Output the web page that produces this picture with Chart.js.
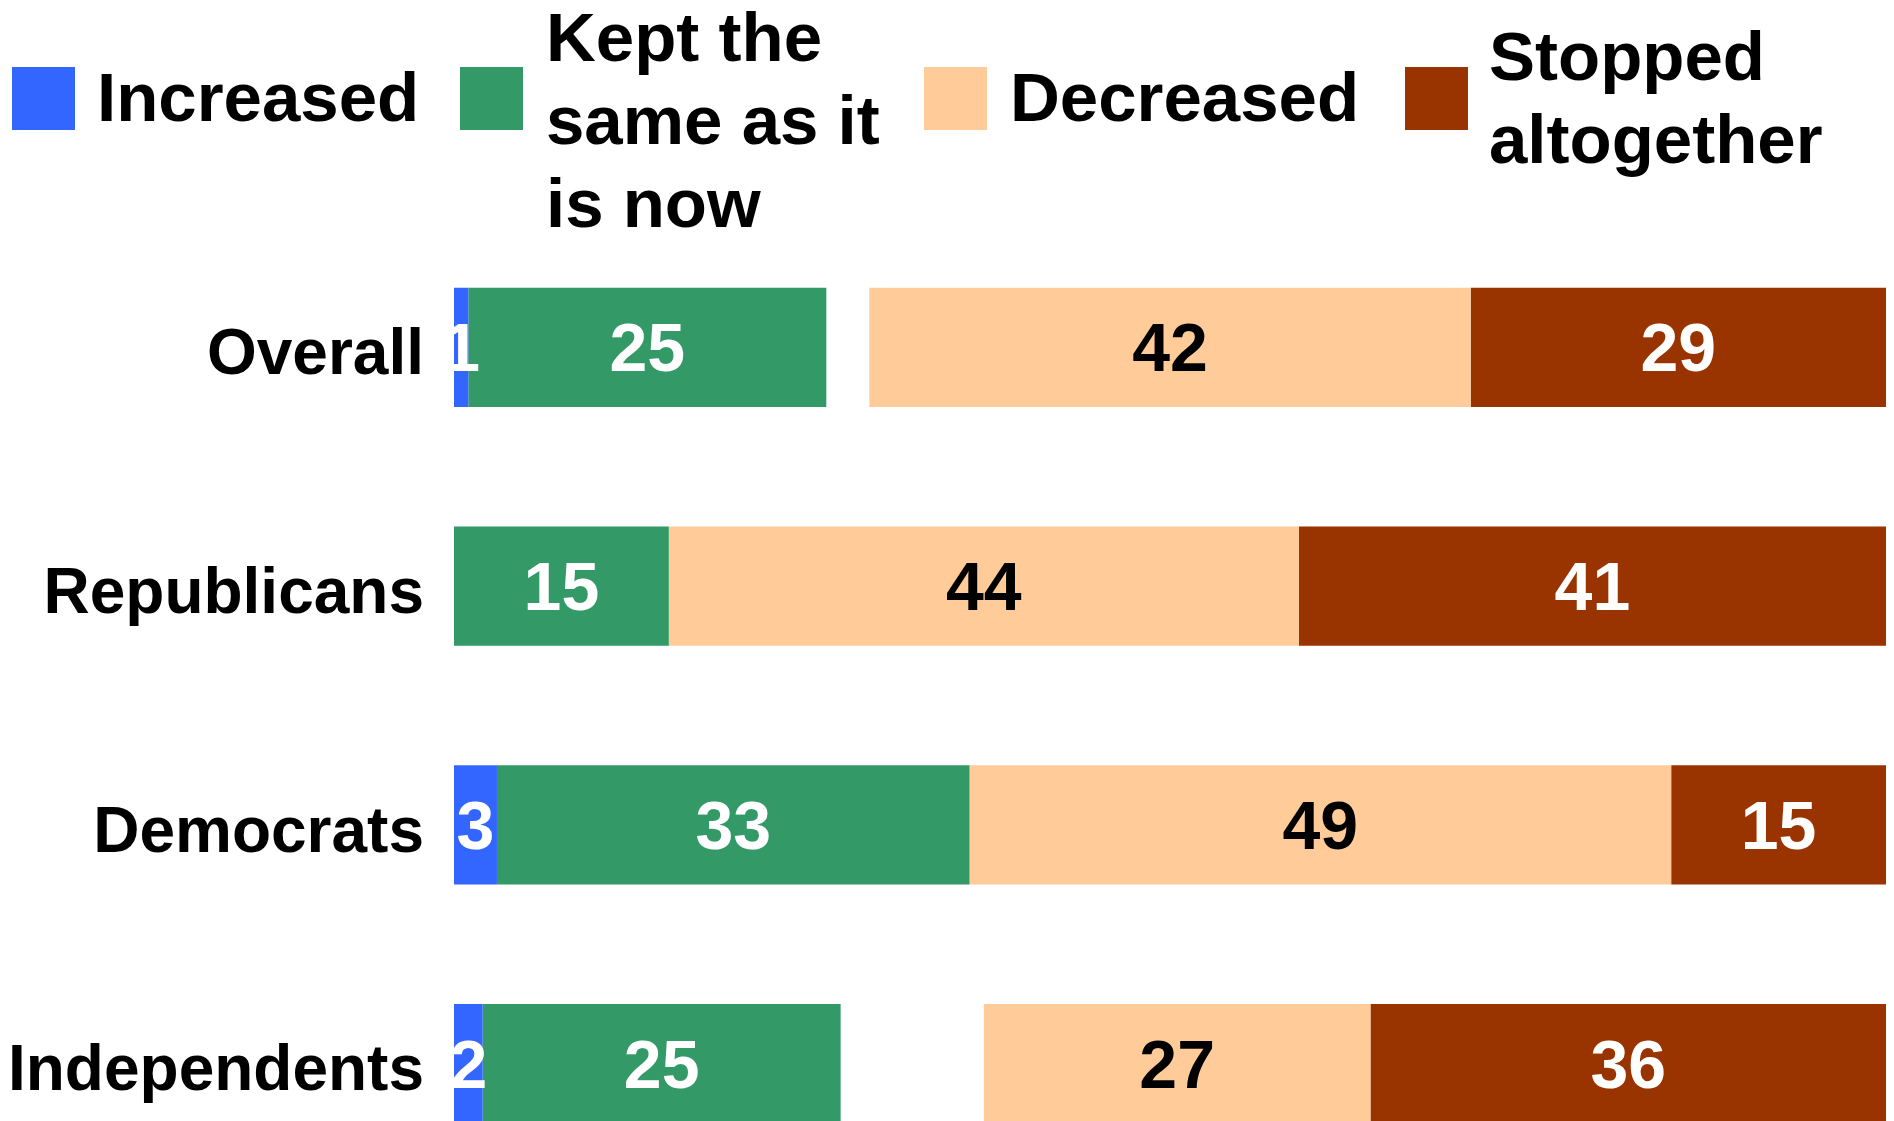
<!DOCTYPE html>
<html>
<head>
<meta charset="utf-8">
<script src="https://cdn.jsdelivr.net/npm/chart.js@4.4.1/dist/chart.umd.min.js"></script>
<style>
    html, body { margin: 0; padding: 0; background: #fff; overflow: hidden; }
    #wrap { width: 1894px; height: 1121px; overflow: hidden; position: relative; }
    #chart { display: block; }
</style>
</head>
<body>
<div id="wrap"><canvas id="chart" width="1894" height="1190"></canvas></div>
<script>
// Data (percent)
const groups = ['Overall', 'Republicans', 'Democrats', 'Independents'];
const seriesNames = ['Increased', 'Kept the same as it is now', 'Decreased', 'Stopped altogether'];
const increased = [1, 0, 3, 2];
const keptSame = [25, 15, 33, 25];
const noAnswer = [3, 0, 0, 10]; // rest of 100, left blank in the chart
const decreased = [42, 44, 49, 27];
const stopped = [29, 41, 15, 36];
const axisMax = 100;

const FONT = '"Liberation Sans", Arial, Helvetica, sans-serif';
const colors = ['#3366ff', '#339966', '#ffcc99', '#993300'];
const valueColors = ['#ffffff', '#ffffff', '#000000', '#ffffff'];

// Legend layout (wrapped lines, box x, text x, first baseline)
const legendItems = [
    { series: 0, lines: ['Increased'], box: 12, text: 97, base: 121 },
    { series: 1, lines: ['Kept the', 'same as it', 'is now'], box: 460, text: 546, base: 61 },
    { series: 2, lines: ['Decreased'], box: 924, text: 1010, base: 121 },
    { series: 3, lines: ['Stopped', 'altogether'], box: 1405, text: 1489, base: 80 }
];

const datasets = [
    { label: seriesNames[0], data: increased, backgroundColor: colors[0], valueColor: valueColors[0] },
    { label: seriesNames[1], data: keptSame, backgroundColor: colors[1], valueColor: valueColors[1] },
    { label: 'No answer', data: noAnswer, backgroundColor: 'rgba(0,0,0,0)', noValues: true },
    { label: seriesNames[2], data: decreased, backgroundColor: colors[2], valueColor: valueColors[2] },
    { label: seriesNames[3], data: stopped, backgroundColor: colors[3], valueColor: valueColors[3] }
];

// Numbers centred in each segment
const barValues = {
    id: 'barValues',
    afterDatasetsDraw(chart) {
        const { ctx, chartArea } = chart;
        ctx.save();
        ctx.beginPath();
        ctx.rect(chartArea.left, chartArea.top, chartArea.right - chartArea.left, chartArea.bottom - chartArea.top);
        ctx.clip();
        ctx.font = `bold 68px ${FONT}`;
        ctx.textAlign = 'center';
        ctx.textBaseline = 'alphabetic';
        chart.data.datasets.forEach((ds, i) => {
            if (ds.noValues) return;
            chart.getDatasetMeta(i).data.forEach((bar, j) => {
                const v = ds.data[j];
                if (!v) return;
                ctx.fillStyle = ds.valueColor;
                ctx.fillText(String(v), (bar.x + bar.base) / 2, bar.y + 24);
            });
        });
        ctx.restore();
    }
};

// Legend with wrapped labels across the top
const topLegend = {
    id: 'topLegend',
    afterDraw(chart) {
        const ctx = chart.ctx;
        ctx.save();
        ctx.font = `bold 69px ${FONT}`;
        ctx.textAlign = 'left';
        ctx.textBaseline = 'alphabetic';
        legendItems.forEach(item => {
            ctx.fillStyle = colors[item.series];
            ctx.fillRect(item.box, 67, 63, 63);
            ctx.fillStyle = '#000';
            item.lines.forEach((line, k) => {
                ctx.fillText(line, item.text, item.base + k * 83);
            });
        });
        ctx.restore();
    }
};

new Chart(document.getElementById('chart').getContext('2d'), {
    type: 'bar',
    data: { labels: groups, datasets: datasets },
    options: {
        indexAxis: 'y',
        responsive: false,
        devicePixelRatio: 1,
        animation: false,
        layout: { padding: { top: 228, right: 8, bottom: 7, left: 0 } },
        datasets: { bar: { categoryPercentage: 1, barPercentage: 0.5, borderWidth: 0 } },
        plugins: { legend: { display: false }, tooltip: { enabled: false } },
        scales: {
            x: { stacked: true, min: 0, max: axisMax, display: false },
            y: {
                stacked: true,
                grid: { display: false, drawTicks: false },
                border: { display: false },
                ticks: {
                    color: '#000',
                    padding: 30,
                    labelOffset: 9,
                    font: { family: FONT, size: 64, weight: 'bold' }
                },
                afterFit(scale) {
                    scale.width = 454;
                    scale.paddingTop = 0;
                    scale.paddingBottom = 0;
                }
            }
        }
    },
    plugins: [barValues, topLegend]
});
</script>
</body>
</html>
